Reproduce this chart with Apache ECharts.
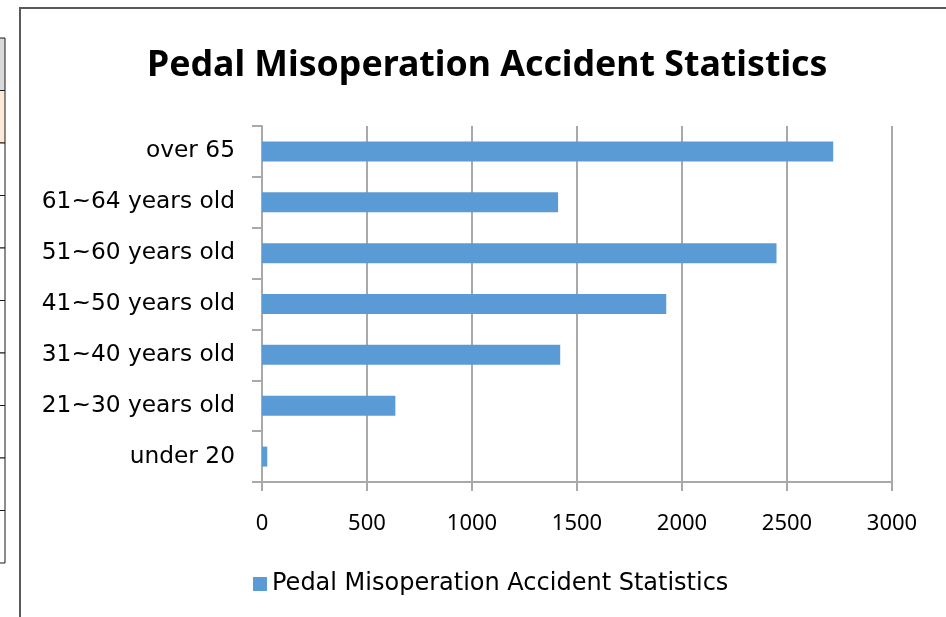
<!DOCTYPE html>
<html>
<head>
<meta charset="utf-8">
<script src="https://cdn.jsdelivr.net/npm/echarts@6/dist/echarts.min.js"></script>
<style>
  html, body { margin: 0; padding: 0; background: #fff; }
  #chart { width: 946px; height: 617px; }
</style>
</head>
<body>
<div id="chart"></div>
<script>
// chart data (bottom to top, as the category axis draws it)
var ageGroups = ["under 20", "21~30 years old", "31~40 years old", "41~50 years old",
                 "51~60 years old", "61~64 years old", "over 65"];
var accidents = [25, 635, 1420, 1925, 2450, 1410, 2720];
var seriesName = "Pedal Misoperation Accident Statistics";
var titleText = "Pedal Misoperation Accident Statistics";

var FONT = "Noto Sans";
var WIDE_FONT = "DejaVu Sans";
var AXIS_GRAY = "#a9a9a9";

var chart = echarts.init(document.getElementById("chart"));

// left edge of the spreadsheet behind the chart (just decoration)
var sheetRows = [];
var rowTops = [38, 90.5, 143, 195.5, 248, 300.5, 353, 405.5, 458, 510.5];
rowTops.forEach(function (y, i) {
  var fill = i === 0 ? "#d9d9d9" : (i === 1 ? "#fde9d9" : "#ffffff");
  sheetRows.push({
    type: "rect",
    shape: { x: -2, y: y, width: 7, height: 52.5 },
    style: { fill: fill, stroke: "#1a1a1a", lineWidth: 1 },
    silent: true
  });
});

chart.setOption({
  animation: false,
  backgroundColor: "#ffffff",
  textStyle: { fontFamily: FONT },
  title: {
    text: titleText,
    left: 142,
    top: 43,
    textStyle: { fontFamily: FONT, fontSize: 35.7, fontWeight: "bold", color: "#000" }
  },
  legend: {
    data: [seriesName],
    left: 248,
    top: 567,
    icon: "rect",
    itemWidth: 14,
    itemHeight: 14,
    itemGap: 8,
    textStyle: { fontFamily: WIDE_FONT, fontSize: 24, color: "#000" }
  },
  grid: { left: 262, right: 54, top: 126, bottom: 135, containLabel: false },
  xAxis: {
    type: "value",
    min: 0,
    max: 3000,
    interval: 500,
    axisLine: { show: true, lineStyle: { color: AXIS_GRAY, width: 2 } },
    axisTick: { show: true, length: 9, lineStyle: { color: AXIS_GRAY, width: 2 } },
    splitLine: { show: true, lineStyle: { color: AXIS_GRAY, width: 2 } },
    axisLabel: {
      fontFamily: FONT, fontSize: 22, color: "#000", margin: 31,
      formatter: function (v) { return String(v); }
    }
  },
  yAxis: {
    type: "category",
    data: ageGroups,
    axisLine: { show: true, lineStyle: { color: AXIS_GRAY, width: 2 } },
    axisTick: { show: true, length: 10, lineStyle: { color: AXIS_GRAY, width: 2 } },
    axisLabel: { fontFamily: WIDE_FONT, fontSize: 23.3, color: "#000", margin: 27 }
  },
  series: [{
    name: seriesName,
    type: "bar",
    data: accidents,
    barWidth: 20,
    itemStyle: { color: "#5b9bd5" }
  }],
  graphic: sheetRows.concat([
    {
      type: "polyline",
      shape: { points: [[20, 617], [20, 8], [946, 8]] },
      style: { stroke: "#595959", lineWidth: 2, fill: null },
      silent: true
    }
  ])
});
</script>
</body>
</html>
